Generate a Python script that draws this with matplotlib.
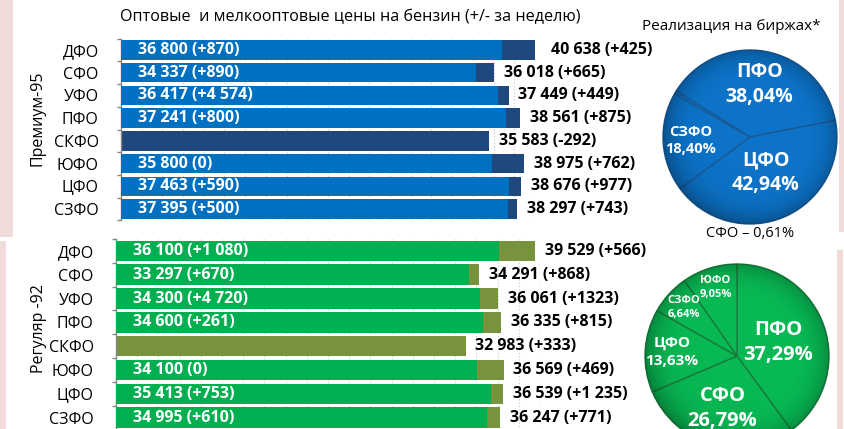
import numpy as np
import matplotlib
matplotlib.use("Agg")
import matplotlib.pyplot as plt
from matplotlib.patches import Rectangle, Circle

plt.rcParams['font.family'] = ['Open Sans', 'DejaVu Sans']

# ---- data -------------------------------------------------------------
regions = ['ДФО', 'СФО', 'УФО', 'ПФО', 'СКФО', 'ЮФО', 'ЦФО', 'СЗФО']

prem_wholesale = [36800, 34337, 36417, 37241, None, 35800, 37463, 37395]
prem_wholesale_chg = ['+870', '+890', '+4 574', '+800', None, '0', '+590', '+500']
prem_retail = [40638, 36018, 37449, 38561, 35583, 38975, 38676, 38297]
prem_retail_chg = ['+425', '+665', '+449', '+875', '-292', '+762', '+977', '+743']

reg_wholesale = [36100, 33297, 34300, 34600, None, 34100, 35413, 34995]
reg_wholesale_chg = ['+1 080', '+670', '+4 720', '+261', None, '0', '+753', '+610']
reg_retail = [39529, 34291, 36061, 36335, 32983, 36569, 36539, 36247]
reg_retail_chg = ['+566', '+868', '+1323', '+815', '+333', '+469', '+1 235', '+771']

prem_exch_regions = ['ПФО', 'ЦФО', 'СЗФО', 'СФО']
prem_exch_share = [38.04, 42.94, 18.40, 0.61]
reg_exch_regions = ['ПФО', 'СФО', 'ЦФО', 'СЗФО', 'ЮФО']
reg_exch_share = [37.29, 26.79, 13.63, 6.64, 9.05]

title = 'Оптовые  и мелкооптовые цены на бензин (+/- за неделю)'
pie_title = 'Реализация на биржах*'

# ---- figure helpers -----------------------------------------------------
W, H = 845, 429
fig = plt.figure(figsize=(W / 100, H / 100), dpi=100)
fig.patch.set_facecolor('white')


def box(l, t, r, b):
    return [l / W, 1 - b / H, (r - l) / W, (b - t) / H]


def fmt_num(v):
    return f'{v:,}'.replace(',', ' ')


def fmt_pct(v):
    return f'{v:.2f}'.replace('.', ',') + '%'


# decorative side stripes
pink = '#F2DCDB'
for (l, t, r, b) in [(0, 0, 13, 237), (0, 241, 6, 429), (839, 0, 844, 232), (837, 250, 843, 429)]:
    fig.patches.append(Rectangle((l / W, 1 - b / H), (r - l) / W, (b - t) / H,
                                 transform=fig.transFigure, facecolor=pink,
                                 edgecolor='none', zorder=0))


def bar_panel(rect, wholesale, wholesale_chg, retail, retail_chg, c_whole, c_retail):
    ax = fig.add_axes(box(*rect))
    y = np.arange(len(regions))
    ax.barh(y, retail, height=0.86, color=c_retail, zorder=2)
    ws = [v if v is not None else 0 for v in wholesale]
    ax.barh(y, ws, height=0.86, color=c_whole, zorder=3)
    ax.set_xlim(0, 40000)
    ax.set_ylim(len(regions) - 0.5, -0.5)

    # dotted vertical gridlines
    for gx in range(2000, 40000, 2000):
        ax.axvline(gx, color='#C8C8C8', lw=0.8, ls=(0, (1, 2)), zorder=1)
    ax.axvline(40000, color='#A0A0A0', lw=0.9, ls=(0, (1, 2)), zorder=1)

    for s in ['top', 'right', 'bottom']:
        ax.spines[s].set_visible(False)
    ax.spines['left'].set_color('#868686')
    ax.spines['left'].set_linewidth(1.0)
    ax.set_xticks([])
    ax.set_yticks(y)
    ax.set_yticklabels(regions, fontsize=11.5)
    ax.tick_params(axis='y', which='major', length=0, pad=16)
    ax.set_yticks(np.arange(-0.5, len(regions)), minor=True)
    ax.tick_params(axis='y', which='minor', length=3, width=1.0, color='#868686')

    for i in range(len(regions)):
        if wholesale[i] is not None:
            ax.annotate(f'{fmt_num(wholesale[i])} ({wholesale_chg[i]})', xy=(0, i),
                        xytext=(12, 0), textcoords='offset points', va='center',
                        ha='left', color='white', fontsize=11.5, fontweight='bold',
                        zorder=5)
        ax.annotate(f'{fmt_num(retail[i])} ({retail_chg[i]})', xy=(retail[i], i),
                    xytext=(7, 0), textcoords='offset points', va='center',
                    ha='left', color='black', fontsize=11.5, fontweight='bold',
                    annotation_clip=False, zorder=5)
    return ax


bar_panel((121, 38.6, 535, 220.4), prem_wholesale, prem_wholesale_chg, prem_retail,
          prem_retail_chg, '#0070C0', '#1F497D')
bar_panel((116, 239, 540, 429.5), reg_wholesale, reg_wholesale_chg, reg_retail,
          reg_retail_chg, '#00B050', '#77933C')

fig.text(38 / W, 1 - 118 / H, 'Премиум-95', rotation=90, ha='center', va='center', fontsize=11.5)
fig.text(39 / W, 1 - 329 / H, 'Регуляр -92', rotation=90, ha='center', va='center', fontsize=11.5)
fig.text(120 / W, 1 - 17 / H, title, ha='left', va='center', fontsize=11.6)
fig.text(731 / W, 1 - 27 / H, pie_title, ha='center', va='center', fontsize=11)
fig.text(750 / W, 1 - 233 / H, 'СФО – 0,61%', ha='center', va='center', fontsize=10.5)


def shade(ax, strength):
    # soft darkening towards the rim, stronger on the lower-left side
    n = 400
    yy, xx = np.mgrid[-1:1:n * 1j, -1:1:n * 1j]
    r = np.hypot(xx, yy)
    a = strength * np.clip((r - 0.6) / 0.4, 0, 1) ** 2.5
    a += 0.6 * strength * np.clip(-(xx + yy) / 2.0, 0, 1) * np.clip(r, 0, 1) ** 2
    img = np.zeros((n, n, 4))
    img[..., 3] = np.clip(a, 0, 1)
    im = ax.imshow(img, extent=(-1, 1, -1, 1), origin='lower', zorder=3,
                   interpolation='bilinear')
    im.set_clip_path(Circle((0, 0), 1, transform=ax.transData))


def pie_panel(cx, cy, R, shares, names, color, edge, start, label_r, sizes, skip=()):
    ax = fig.add_axes(box(cx - R - 2, cy - R - 2, cx + R + 2, cy + R + 2))
    wedges, _ = ax.pie(shares, colors=[color] * len(shares), startangle=start,
                       counterclock=False, radius=1,
                       wedgeprops=dict(edgecolor=edge, linewidth=1.0))
    shade(ax, 0.22)
    for w, name, v, rr, fs in zip(wedges, names, shares, label_r, sizes):
        if name in skip:
            continue
        mid = np.deg2rad((w.theta1 + w.theta2) / 2)
        ax.text(rr * np.cos(mid), rr * np.sin(mid), f'{name}\n{fmt_pct(v)}',
                ha='center', va='center', color='white', fontweight='bold',
                fontsize=fs, linespacing=1.35, zorder=5)
    lim = (R + 2) / R
    ax.set_xlim(-lim, lim)
    ax.set_ylim(-lim, lim)
    ax.set_aspect('equal')
    ax.axis('off')
    return ax


pie_panel(750, 137, 87, prem_exch_share, prem_exch_regions, '#0C73C8', '#1C5A94',
          148, [0.61, 0.45, 0.68, 0], [14, 14, 10.5, 0], skip=('СФО',))
pie_panel(737, 356, 92, reg_exch_share, reg_exch_regions, '#08B853', '#1A7A3C',
          90, [0.47, 0.59, 0.71, 0.78, 0.78], [14.5, 14.5, 11, 8, 8])

fig.savefig('out.png', dpi=100)
